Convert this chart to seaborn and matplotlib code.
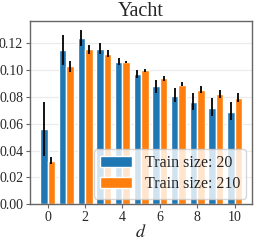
import numpy as np
import pandas as pd
import matplotlib
matplotlib.use("Agg")
import matplotlib.pyplot as plt
import seaborn as sns

d_values = [0, 1, 2, 3, 4, 5, 6, 7, 8, 9, 10]
series_names = ["Train size: 20", "Train size: 210"]
mean_20 = [0.056, 0.115, 0.124, 0.116, 0.106, 0.097, 0.088, 0.081, 0.076, 0.072, 0.069]
low_20 = [0.036, 0.104, 0.118, 0.112, 0.104, 0.094, 0.083, 0.076, 0.070, 0.066, 0.063]
high_20 = [0.076, 0.126, 0.130, 0.120, 0.109, 0.100, 0.093, 0.087, 0.083, 0.079, 0.076]
mean_210 = [0.032, 0.103, 0.116, 0.112, 0.106, 0.100, 0.094, 0.089, 0.085, 0.082, 0.079]
low_210 = [0.030, 0.099, 0.112, 0.110, 0.105, 0.099, 0.092, 0.088, 0.083, 0.079, 0.076]
high_210 = [0.035, 0.107, 0.119, 0.115, 0.107, 0.101, 0.096, 0.091, 0.088, 0.085, 0.083]
xtick_labels = ["0", "2", "4", "6", "8", "10"]
colors = ["#1f77b4", "#ff7f0e"]

sns.set_style("whitegrid")
plt.rcParams["font.family"] = ["Liberation Serif", "DejaVu Serif"]
plt.rcParams["mathtext.fontset"] = "stix"

df = pd.DataFrame({
    "d": d_values * 2,
    "value": mean_20 + mean_210,
    "series": [series_names[0]] * len(d_values) + [series_names[1]] * len(d_values),
})

fig = plt.figure(figsize=(2.58, 2.42), dpi=100)
ax = fig.add_axes([0.117, 0.156, 0.860, 0.759])
sns.barplot(data=df, x="d", y="value", hue="series", palette=colors,
            saturation=1, errorbar=None, ax=ax, hue_order=series_names)

lows = [low_20, low_210]
highs = [high_20, high_210]
n = len(d_values)
bars = ax.patches[: 2 * n]
for k in range(2):
    for i in range(n):
        p = bars[k * n + i]
        xc = p.get_x() + p.get_width() / 2
        ax.plot([xc, xc], [lows[k][i], highs[k][i]], color="black", lw=1.3,
                solid_capstyle="butt", zorder=5)

ax.set_xticks([int(t) for t in xtick_labels])
ax.set_xticklabels(xtick_labels)
ax.set_ylim(0, 0.137)
ax.set_yticks([0.0, 0.02, 0.04, 0.06, 0.08, 0.10, 0.12])
ax.set_yticklabels(["0.00", "0.02", "0.04", "0.06", "0.08", "0.10", "0.12"])
ax.grid(axis="x", visible=False)
ax.grid(axis="y", color="#ebebeb", lw=0.8)
ax.set_axisbelow(True)
for s in ax.spines.values():
    s.set_color("#666666")
    s.set_linewidth(1.0)
ax.tick_params(axis="both", labelsize=10, length=3, width=0.8, color="#666666",
               pad=2, bottom=True, left=True)
ax.set_title("Yacht", fontsize=14.5, pad=3)
ax.set_xlabel("$d$", fontsize=13, labelpad=0)
ax.set_ylabel("")
leg = ax.legend(loc="lower right", fontsize=11.5, frameon=True, framealpha=0.8,
                edgecolor="#cccccc", borderpad=0.4, labelspacing=0.3,
                handlelength=2.0, handletextpad=0.8, borderaxespad=0.35)
fig.savefig("out.png", dpi=100)
